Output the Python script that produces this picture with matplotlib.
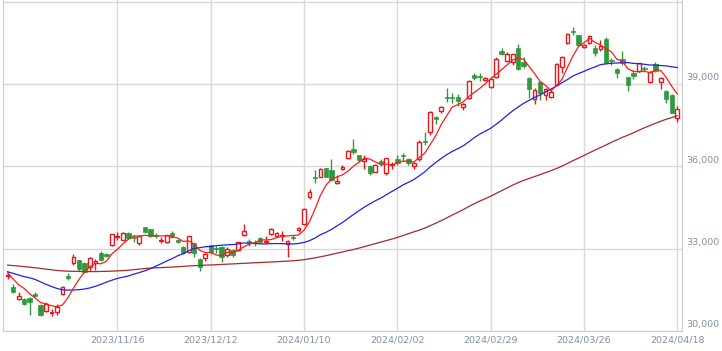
import numpy as np
import pandas as pd
import matplotlib.pyplot as plt
from matplotlib.transforms import ScaledTranslation

# trading days (Tokyo), 2023/10/18 - 2024/04/18
holidays = ['2023-11-03', '2023-11-23', '2024-01-01', '2024-01-02', '2024-01-03',
            '2024-01-08', '2024-02-12', '2024-02-23', '2024-03-20']
days = pd.bdate_range('2023-10-18', '2024-04-18')
days = days[~days.isin(pd.to_datetime(holidays))]

open_ = [32020, 31610, 31160, 31160, 31200, 31340, 30945, 30730, 30650, 30690,
         31345, 32000, 32465, 32585, 32475, 32330, 32475, 32840, 32790, 33130,
         33420, 33315, 33560, 33420, 33205, 33775, 33715, 33500, 33280, 33250,
         33560, 33330, 33070, 32890, 33195, 32620, 32670, 33130, 33030, 33050,
         32765, 32950, 32950, 33500, 33290, 33250, 33400, 33250, 33545, 33470,
         33470, 33155, 33420, 33680, 33885, 34870, 35620, 35620, 35930, 35870,
         35380, 35920, 36290, 36630, 36410, 36200, 36010, 35805, 36195, 35745,
         36050, 36255, 36420, 36255, 36010, 36255, 36930, 37240, 37780, 38015,
         38540, 38540, 38540, 38175, 38500, 39330, 39300, 39150, 38905, 39245,
         40215, 39850, 39815, 40300, 39815, 39230, 38455, 39060, 38600, 38540,
         38965, 39635, 40480, 40930, 40785, 40340, 40480, 40300, 40265, 40640,
         39880, 39535, 39900, 39245, 39415, 39490, 39600, 39060, 39730, 39060,
         38755, 38600, 37750]
high = [32140, 31700, 31430, 31200, 31250, 31430, 30980, 31050, 30810, 31000,
        31640, 32100, 32800, 32600, 32520, 32700, 32620, 32900, 32850, 33550,
        33600, 33600, 33600, 33500, 33500, 33800, 33720, 33560, 33420, 33500,
        33650, 33350, 33100, 33460, 33200, 32650, 32850, 33150, 33100, 33100,
        33050, 33000, 33250, 33890, 33350, 33300, 33420, 33450, 33760, 33600,
        33650, 33300, 33500, 33800, 34470, 35170, 35870, 35950, 35950, 36255,
        35700, 36050, 36600, 36980, 36420, 36410, 36050, 36080, 36250, 36300,
        36150, 36400, 36500, 36300, 36150, 36950, 37260, 38000, 37850, 38200,
        38840, 38670, 38650, 38300, 39150, 39400, 39415, 39260, 39200, 39990,
        40300, 40150, 40100, 40450, 40000, 39250, 38840, 39100, 38870, 38800,
        39760, 40030, 40850, 41090, 40800, 40470, 40800, 40420, 40600, 40700,
        39950, 39600, 40200, 39260, 39500, 39780, 39650, 39470, 39800, 39260,
        38790, 38620, 38200]
low = [31890, 31380, 31125, 30960, 30580, 31240, 30550, 30700, 30540, 30580,
       31300, 31850, 32400, 32200, 32100, 32185, 32220, 32550, 32700, 33100,
       33300, 33300, 33350, 33250, 33150, 33600, 33420, 33380, 33200, 33200,
       33400, 33200, 32800, 32850, 32700, 32195, 32550, 32800, 32850, 32525,
       32700, 32700, 32900, 33450, 33100, 33100, 33200, 33200, 33500, 33420,
       33280, 32700, 33300, 33600, 33860, 34800, 35390, 35600, 35600, 35450,
       35350, 35850, 36250, 36450, 36150, 35900, 35700, 35780, 36000, 35700,
       35900, 36050, 36200, 36050, 35900, 36200, 36780, 37150, 37550, 37950,
       38350, 38310, 38200, 38050, 38450, 39150, 39125, 39100, 38850, 39200,
       40050, 39800, 39700, 39500, 39600, 38480, 38270, 38415, 38415, 38500,
       38950, 39400, 40450, 40780, 40390, 40300, 40460, 40020, 40200, 39750,
       39700, 39210, 39700, 38755, 39170, 39450, 39450, 39030, 39450, 38810,
       38300, 37930, 37625]
close = [32042, 31430, 31259, 30999, 31062, 31269, 30601, 30991, 30696, 30858,
         31601, 31949, 32708, 32271, 32166, 32646, 32568, 32585, 32750, 33519,
         33450, 33585, 33400, 33380, 33451, 33625, 33447, 33460, 33330, 33486,
         33431, 33231, 32830, 33445, 32858, 32340, 32805, 32865, 32990, 32705,
         32975, 32758, 33230, 33655, 33195, 33210, 33255, 33290, 33700, 33560,
         33495, 33275, 33380, 33765, 34445, 35050, 35577, 35890, 35625, 35500,
         35475, 35963, 36560, 36517, 36226, 36255, 35751, 36050, 36075, 36290,
         36075, 36110, 36380, 36110, 36110, 36900, 36897, 37970, 37720, 38150,
         38487, 38490, 38363, 38262, 39098, 39233, 39239, 39208, 39180, 39910,
         40085, 40097, 40090, 39545, 39670, 38805, 38780, 38660, 38805, 38720,
         39720, 39975, 40820, 40888, 40414, 40420, 40762, 40120, 40369, 39775,
         39838, 39410, 39775, 38965, 39305, 39755, 39560, 39450, 39490, 39210,
         38455, 37955, 38080]

ma_short = [32110, 31898, 31686, 31554, 31358, 31204, 31038, 30984, 30924, 30883,
            30949, 31219, 31562, 31877, 32139, 32348, 32472, 32447, 32543, 32814,
            32974, 33178, 33341, 33467, 33453, 33488, 33461, 33473, 33463, 33470,
            33431, 33388, 33262, 33285, 33159, 32941, 32856, 32863, 32772, 32741,
            32868, 32859, 32932, 33065, 33163, 33210, 33309, 33321, 33330, 33403,
            33460, 33464, 33482, 33495, 33672, 33983, 34443, 34945, 35317, 35528,
            35613, 35691, 35825, 36003, 36148, 36304, 36262, 36160, 36071, 36084,
            36048, 36120, 36186, 36193, 36157, 36322, 36479, 36797, 37119, 37527,
            37845, 38163, 38242, 38350, 38540, 38689, 38839, 39008, 39192, 39354,
            39524, 39696, 39872, 39945, 39897, 39641, 39378, 39092, 38944, 38754,
            38937, 39176, 39608, 40025, 40363, 40503, 40661, 40521, 40417, 40289,
            40173, 39902, 39833, 39553, 39459, 39442, 39472, 39407, 39512, 39493,
            39233, 38912, 38638]
ma_mid = [32160, 32100, 32040, 31980, 31940, 31880, 31790, 31700, 31620, 31550,
          31500, 31490, 31495, 31505, 31530, 31570, 31630, 31700, 31780, 31850,
          31917, 31961, 32004, 32073, 32129, 32193, 32274, 32361, 32455, 32552,
          32638, 32744, 32817, 32927, 33007, 33036, 33071, 33077, 33106, 33127,
          33140, 33148, 33174, 33210, 33197, 33188, 33175, 33170, 33183, 33187,
          33182, 33175, 33172, 33189, 33228, 33292, 33386, 33509, 33596, 33701,
          33827, 33953, 34101, 34242, 34383, 34514, 34634, 34747, 34843, 34967,
          35082, 35196, 35320, 35416, 35518, 35654, 35799, 35983, 36141, 36289,
          36426, 36543, 36642, 36747, 36891, 37042, 37173, 37279, 37385, 37532,
          37686, 37859, 38021, 38160, 38295, 38404, 38511, 38602, 38710, 38814,
          38927, 39050, 39164, 39291, 39382, 39459, 39550, 39620, 39705, 39731,
          39756, 39763, 39785, 39777, 39752, 39739, 39718, 39692, 39690, 39672,
          39658, 39625, 39601]
ma_long = [32400, 32385, 32365, 32345, 32325, 32305, 32280, 32255, 32230, 32205,
           32190, 32180, 32175, 32170, 32165, 32165, 32165, 32170, 32175, 32180,
           32190, 32200, 32215, 32235, 32255, 32275, 32290, 32300, 32310, 32320,
           32330, 32340, 32355, 32370, 32380, 32390, 32400, 32405, 32415, 32425,
           32435, 32445, 32455, 32465, 32475, 32485, 32495, 32505, 32515, 32525,
           32535, 32545, 32560, 32575, 32600, 32630, 32665, 32705, 32745, 32790,
           32835, 32880, 32925, 32970, 33020, 33075, 33130, 33185, 33240, 33295,
           33350, 33410, 33475, 33545, 33611, 33676, 33749, 33839, 33928, 34023,
           34119, 34224, 34322, 34423, 34533, 34635, 34732, 34819, 34911, 35014,
           35113, 35214, 35314, 35404, 35486, 35558, 35627, 35697, 35770, 35840,
           35921, 36008, 36106, 36207, 36299, 36393, 36493, 36590, 36683, 36775,
           36875, 36963, 37055, 37135, 37223, 37313, 37404, 37487, 37564, 37645,
           37715, 37777, 37841]

tick_labels = ['2023/11/16', '2023/12/12', '2024/01/10', '2024/02/02',
               '2024/02/29', '2024/03/26', '2024/04/18']
y_ticks = [30000, 33000, 36000, 39000, 42000]

red = '#e8191d'
green = '#2e9a3c'
txt = '#8490a0'

x = np.arange(len(days))
o = np.array(open_)
h = np.array(high)
l = np.array(low)
c = np.array(close)
up = c >= o

fig = plt.figure(figsize=(7.22, 3.51), dpi=100)
ax = fig.add_axes([3 / 722, 20 / 351, 679 / 722, 331 / 351])

# wicks
ax.vlines(x[up], l[up], h[up], color=red, lw=1, zorder=2)
ax.vlines(x[~up], l[~up], h[~up], color=green, lw=1, zorder=2)
# bodies
ax.bar(x[up], c[up] - o[up], bottom=o[up], width=0.7,
       facecolor='white', edgecolor=red, lw=1, zorder=3)
ax.bar(x[~up], o[~up] - c[~up], bottom=c[~up], width=0.8,
       color=green, edgecolor=green, lw=0.5, zorder=3)

# moving averages
ax.plot(x, ma_long, color='#a52a2a', lw=0.9, zorder=4)
ax.plot(x, ma_mid, color='#2020f0', lw=0.9, zorder=4)
ax.plot(x, ma_short, color='#ff1a1a', lw=0.9, zorder=4)

ax.set_xlim(-0.84, 122.86)
ax.set_ylim(30000, 42060)

tick_pos = [days.get_loc(pd.Timestamp(t.replace('/', '-'))) for t in tick_labels]
ax.set_xticks(tick_pos, tick_labels)
ax.set_yticks(y_ticks, [f'{v:,}' if v < 42000 else '' for v in y_ticks])
ax.yaxis.tick_right()
ax.tick_params(axis='both', length=0, labelsize=6.8, labelcolor=txt)
ax.tick_params(axis='x', pad=3)
ax.tick_params(axis='y', pad=3)
for lab in ax.get_yticklabels():
    lab.set_transform(lab.get_transform() + ScaledTranslation(0, 5.2 / 72, fig.dpi_scale_trans))

ax.grid(True, color='#d9d9d9', lw=1)
ax.set_axisbelow(True)
for s in ['left', 'right', 'bottom']:
    ax.spines[s].set_color('#cccccc')
ax.spines['top'].set_visible(False)

plt.savefig('out.png', dpi=100)
